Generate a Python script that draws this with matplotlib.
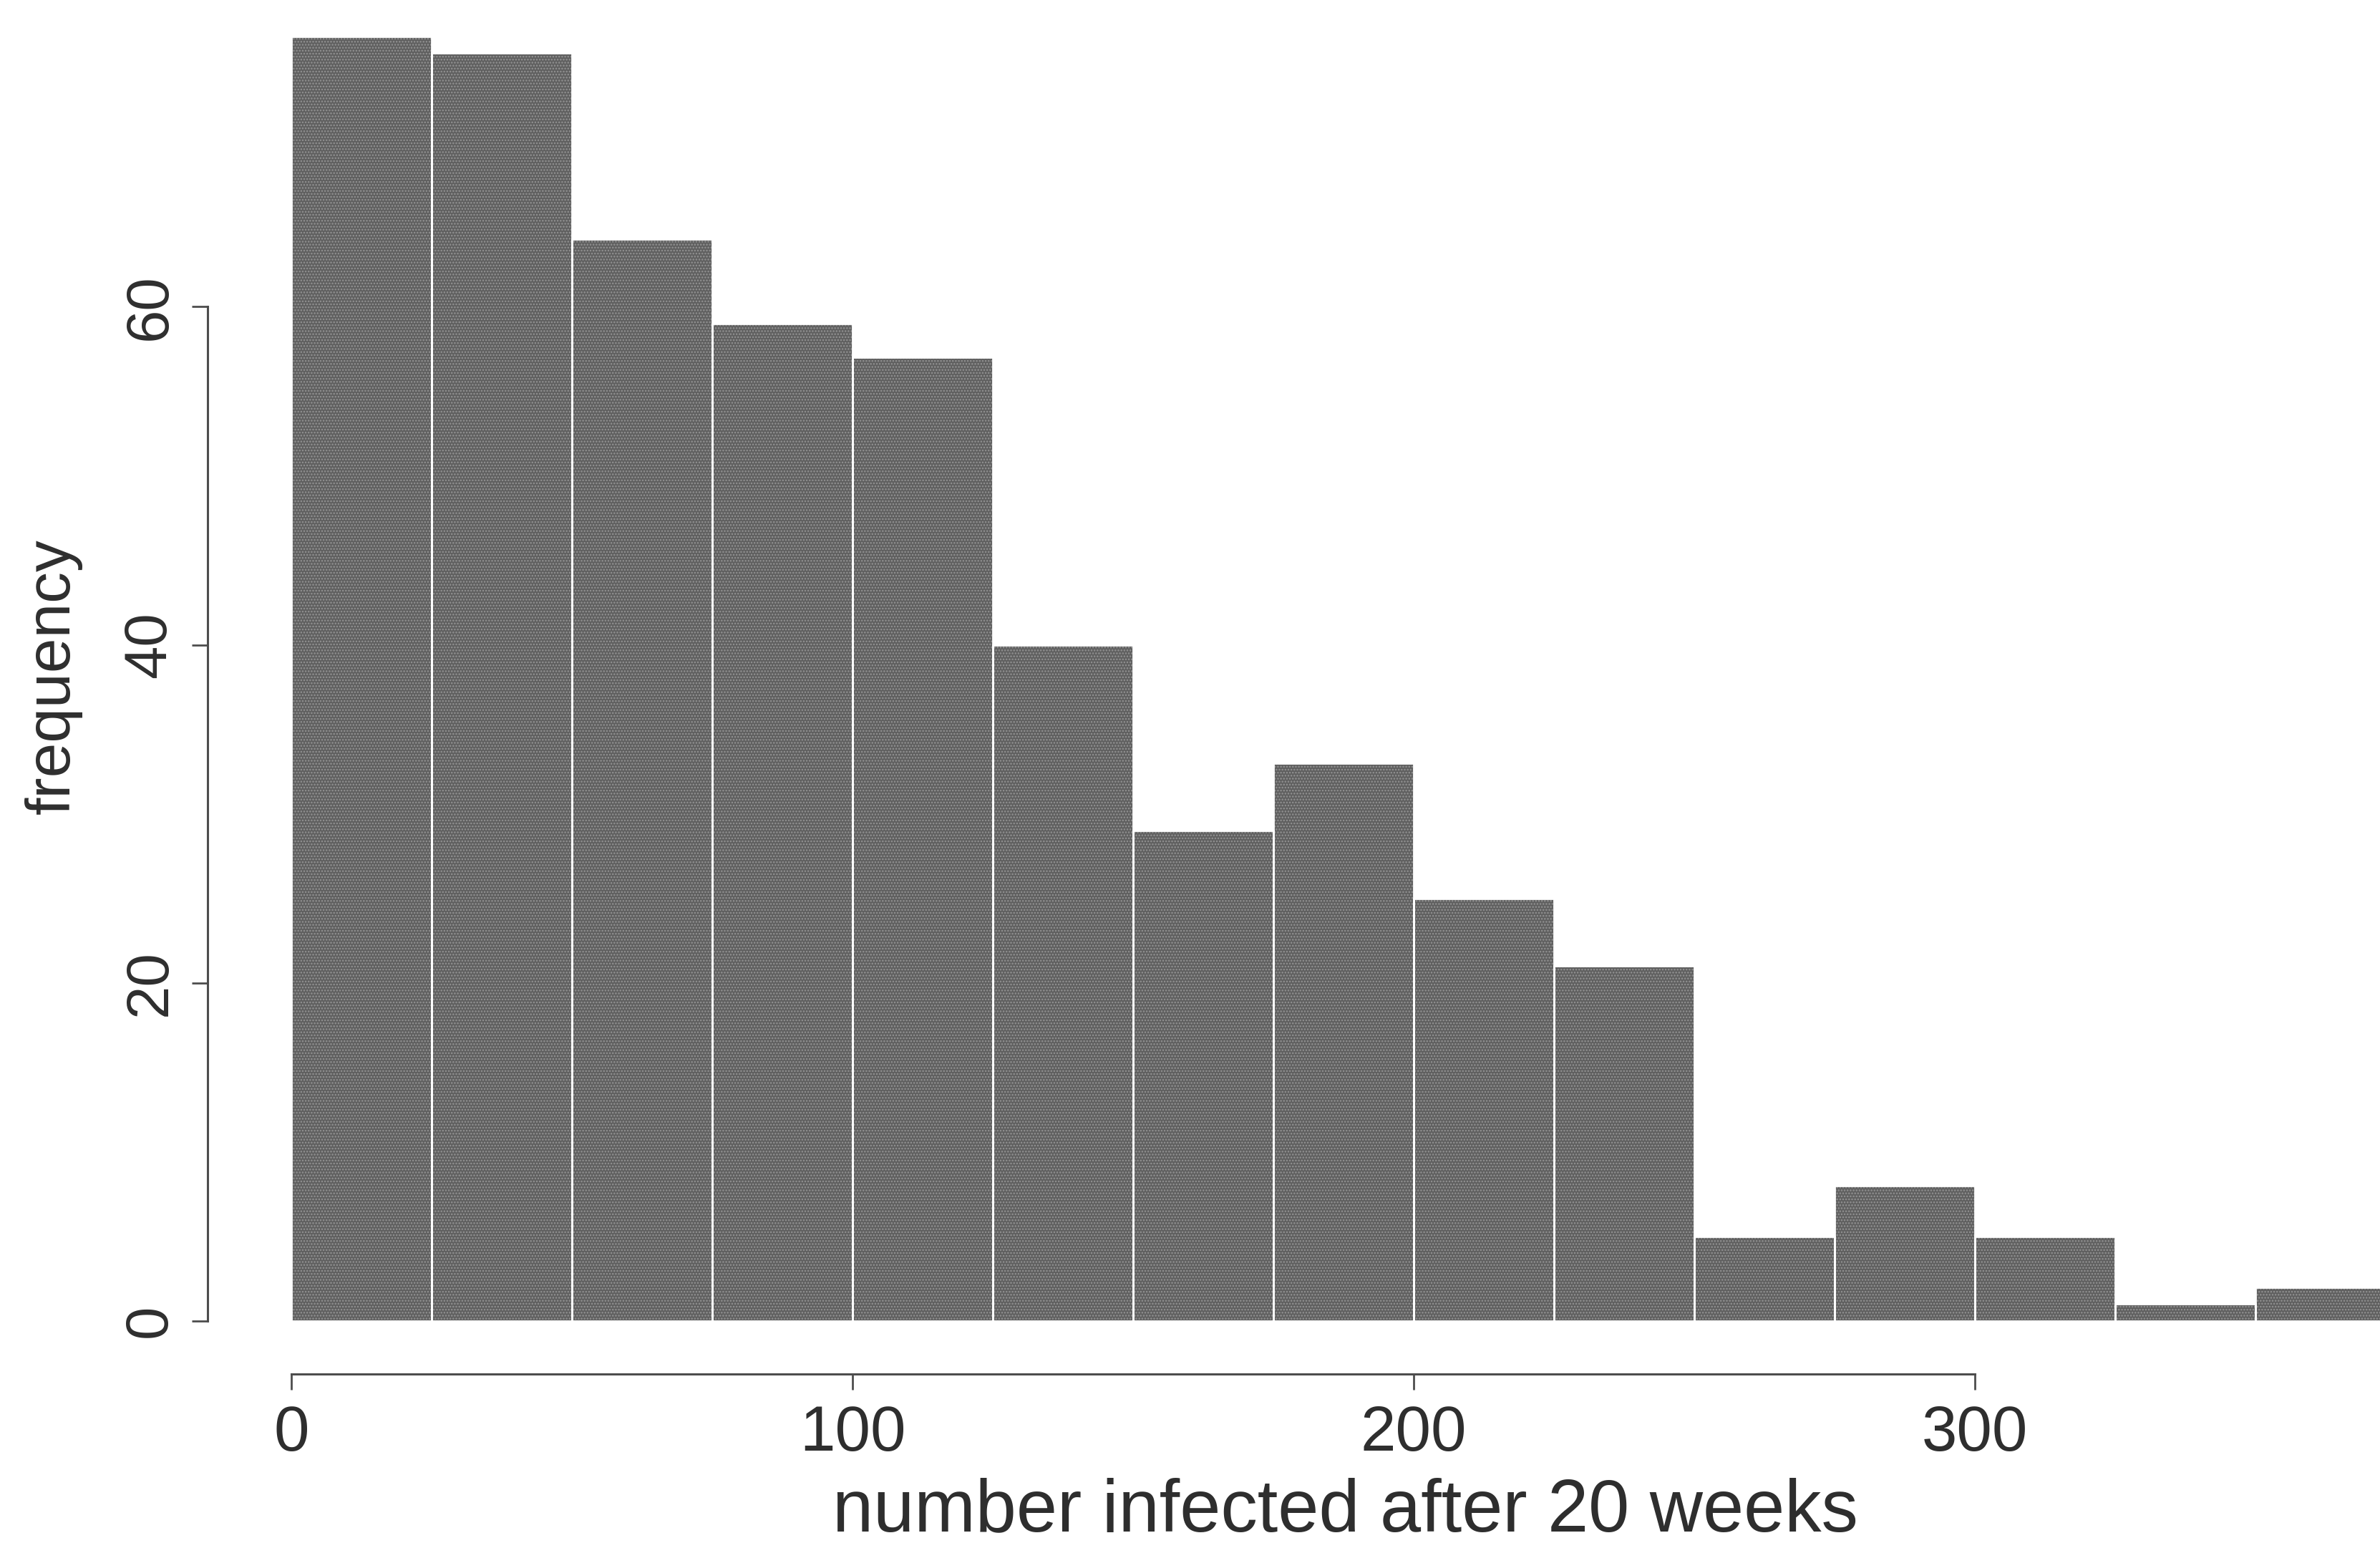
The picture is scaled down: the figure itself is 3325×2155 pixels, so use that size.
import matplotlib
matplotlib.use("Agg")
import matplotlib.pyplot as plt
import numpy as np

# histogram of the number infected after 20 weeks (bins of width 25)
bin_edges = [0, 25, 50, 75, 100, 125, 150, 175, 200, 225, 250, 275, 300, 325, 350, 375]
counts = [76, 75, 64, 59, 57, 40, 29, 33, 25, 21, 5, 8, 5, 1, 2]
x_ticks = [0, 100, 200, 300]
y_ticks = [0, 20, 40, 60]
x_label = "number infected after 20 weeks"
y_label = "frequency"

W, H, DPI = 3325, 2155, 100
plt.rcParams['font.family'] = ['Liberation Sans', 'DejaVu Sans']
plt.rcParams['hatch.linewidth'] = 1.2

fig = plt.figure(figsize=(W / DPI, H / DPI), dpi=DPI)
fig.patch.set_facecolor('white')

# axes box: left spine at x=290px, bottom spine at y=1919px, top/right at the figure edge
left_px, bottom_px = 290, 1919
ax = fig.add_axes([left_px / W, 1 - bottom_px / H, 1 - left_px / W, bottom_px / H])

lefts = np.array(bin_edges[:-1])
widths = np.diff(bin_edges)
# stippled grey fill (hatch drawn in the edge colour), then white outlines between bars
ax.bar(lefts, counts, width=widths, align='edge', color='#5f5f5f',
       edgecolor='#939393', linewidth=0, hatch='....', zorder=2)
ax.bar(lefts, counts, width=widths, align='edge', fill=False,
       edgecolor='white', linewidth=2.0, zorder=3)

# data range chosen so 0..300 and 0..60 land where the axis lines sit
px_per_x = 7.84
px_per_y = 23.61
x0_px, y0_px = 407, 1845
ax.set_xlim((left_px - x0_px) / px_per_x, (W - x0_px) / px_per_x)
ax.set_ylim(-(bottom_px - y0_px) / px_per_y, y0_px / px_per_y)

ax.patch.set_alpha(0)
for s in ['top', 'right']:
    ax.spines[s].set_visible(False)
axis_color = '#4d4d4d'
ax.spines['left'].set_bounds(0, 60)
ax.spines['bottom'].set_bounds(0, 300)
for s in ['left', 'bottom']:
    ax.spines[s].set_color(axis_color)
    ax.spines[s].set_linewidth(2.2)

ax.set_xticks(x_ticks)
ax.set_yticks(y_ticks)
ax.tick_params(axis='both', direction='out', length=16, width=2.0,
               color=axis_color, labelcolor='#2e2e2e')
ax.tick_params(axis='x', labelsize=64, pad=14)
ax.tick_params(axis='y', labelsize=60, pad=14)
for lab in ax.get_yticklabels():
    lab.set_rotation(90)
    lab.set_va('center')

fig.text(1879 / W, 1 - 2112 / H, x_label, fontsize=74, color='#2e2e2e',
         ha='center', va='center')
fig.text(74 / W, 1 - 945 / H, y_label, fontsize=63, color='#2e2e2e',
         ha='center', va='center', rotation=90)

fig.savefig('out.png', dpi=DPI)
